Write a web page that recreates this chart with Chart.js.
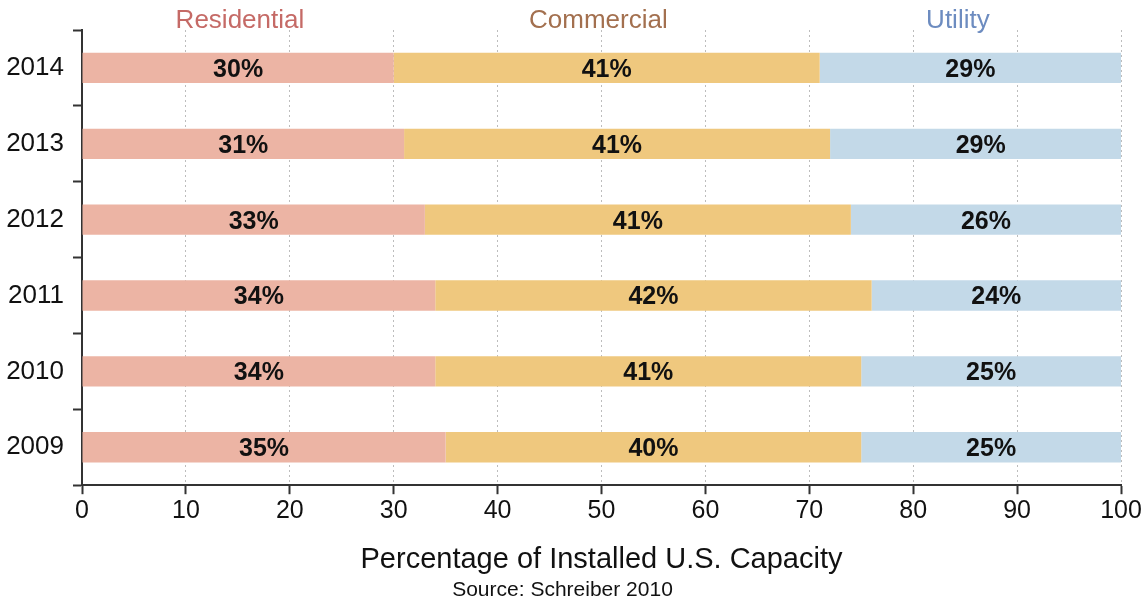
<!DOCTYPE html>
<html>
<head>
<meta charset="utf-8">
<script src="https://cdn.jsdelivr.net/npm/chart.js@4"></script>
<style>
  html, body { margin: 0; padding: 0; background: #fff; }
  #wrap { width: 1146px; height: 601px; }
</style>
</head>
<body>
<div id="wrap"><canvas id="myChart" width="1146" height="601"></canvas></div>
<script>
const years = ['2014', '2013', '2012', '2011', '2010', '2009'];
const residential = [30, 31, 33, 34, 34, 35];
const commercial = [41, 41, 41, 42, 41, 40];
const utility = [29, 29, 26, 24, 25, 25];
const xTicks = [0, 10, 20, 30, 40, 50, 60, 70, 80, 90, 100];

const FONT = "'Liberation Sans', Arial, sans-serif";

// segment names written above the plot, placed in axis units
const headers = [
    { text: 'Residential', at: 15.2, color: '#c56a66' },
    { text: 'Commercial', at: 49.7, color: '#a3704f' },
    { text: 'Utility', at: 84.3, color: '#6d8cc0' }
];

const topLabels = {
    id: 'topLabels',
    afterDraw(chart)
    {
        const ctx = chart.ctx;
        const x = chart.scales.x;
        ctx.save();
        ctx.font = '26px ' + FONT;
        ctx.textAlign = 'center';
        ctx.textBaseline = 'middle';
        headers.forEach(h =>
        {
            ctx.fillStyle = h.color;
            ctx.fillText(h.text, x.getPixelForValue(h.at), 21);
        });
        ctx.restore();
    }
};

// percentage printed in the middle of every segment
const segmentLabels = {
    id: 'segmentLabels',
    afterDatasetsDraw(chart)
    {
        const ctx = chart.ctx;
        ctx.save();
        ctx.font = 'bold 25px ' + FONT;
        ctx.fillStyle = '#111';
        ctx.textAlign = 'center';
        ctx.textBaseline = 'middle';
        chart.data.datasets.forEach((ds, i) =>
        {
            chart.getDatasetMeta(i).data.forEach((bar, j) =>
            {
                const cx = (bar.x + bar.base) / 2;
                ctx.fillText(ds.data[j] + '%', cx, bar.y + 2);
            });
        });
        ctx.restore();
    }
};

const ctx = document.getElementById('myChart').getContext('2d');
const myChart = new Chart(ctx, {
    type: 'bar',
    data: {
        labels: years,
        datasets: [
            { label: 'Residential', data: residential, backgroundColor: '#ecb4a4' },
            { label: 'Commercial', data: commercial, backgroundColor: '#efc87e' },
            { label: 'Utility', data: utility, backgroundColor: '#c3d9e8' }
        ]
    },
    options: {
        indexAxis: 'y',
        responsive: false,
        animation: false,
        events: [],
        categoryPercentage: 1,
        barPercentage: 0.4,
        layout: { padding: { top: 30, right: 25, left: 4, bottom: 0 } },
        scales: {
            x: {
                stacked: true,
                min: 0,
                max: 100,
                afterBuildTicks: (s) => { s.ticks = xTicks.map(v => ({ value: v })); },
                grid: {
                    color: '#bdbdbd',
                    lineWidth: 1,
                    drawTicks: true,
                    tickLength: 9,
                    tickColor: '#333',
                    tickWidth: 2
                },
                border: { display: true, color: '#333', width: 2, dash: [2, 3] },
                ticks: { color: '#111', font: { family: FONT, size: 25 }, padding: 2 },
                title: {
                    display: true,
                    text: 'Percentage of Installed U.S. Capacity',
                    color: '#111',
                    font: { family: FONT, size: 29 },
                    padding: { top: 14, bottom: 0 }
                }
            },
            y: {
                stacked: true,
                afterFit: (s) => { s.width = 78; },
                grid: {
                    offset: true,
                    drawOnChartArea: false,
                    drawTicks: true,
                    tickLength: 9,
                    tickColor: '#333',
                    tickWidth: 2
                },
                border: { display: true, color: '#333', width: 2 },
                ticks: { color: '#111', font: { family: FONT, size: 26 }, padding: 9 }
            }
        },
        plugins: {
            legend: { display: false },
            tooltip: { enabled: false },
            subtitle: {
                display: true,
                position: 'bottom',
                text: 'Source: Schreiber 2010',
                color: '#111',
                font: { family: FONT, size: 21, lineHeight: 1 },
                padding: { top: 3, bottom: 0 }
            }
        }
    },
    plugins: [topLabels, segmentLabels]
});
</script>
</body>
</html>
